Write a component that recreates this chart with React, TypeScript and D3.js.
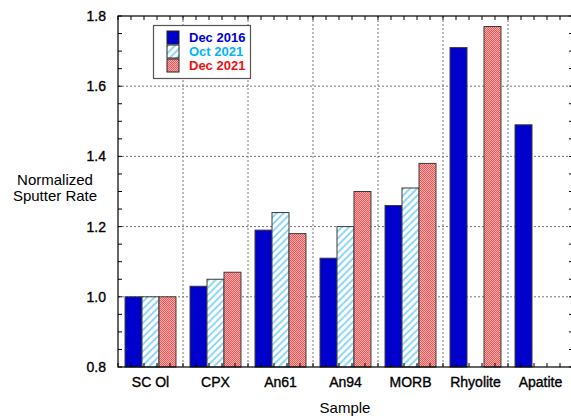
import React from "react";
import * as d3 from "d3";

const categories = ["SC Ol", "CPX", "An61", "An94", "MORB", "Rhyolite", "Apatite"];
const seriesNames = ["Dec 2016", "Oct 2021", "Dec 2021"];
const dec2016 = [1.0, 1.03, 1.19, 1.11, 1.26, 1.71, 1.49];
const oct2021: (number | null)[] = [1.0, 1.05, 1.24, 1.2, 1.31, null, null];
const dec2021: (number | null)[] = [1.0, 1.07, 1.18, 1.3, 1.38, 1.77, null];
const yMajorTicks = [0.8, 1.0, 1.2, 1.4, 1.6, 1.8];

const W = 571;
const H = 418;
const M = { left: 118, right: 573, top: 16, bottom: 367 };
const FONT = "'Liberation Sans', Arial, Helvetica, sans-serif";

const fills = ["#0000cc", "url(#hatch)", "url(#checker)"];
const textColors = ["#0000dd", "#00b4ff", "#ee1111"];

export default function App() {
  const x = d3.scaleBand<string>().domain(categories).range([M.left, M.right]);
  const bw = x.bandwidth();
  const xi = d3.scaleBand<string>().domain(seriesNames).range([bw * 0.108, bw * 0.892]);
  const y = d3.scaleLinear().domain([0.8, 1.8]).range([M.bottom, M.top]);

  const series = [dec2016, oct2021, dec2021];
  const minorY = d3.range(0.8, 1.8001, 0.05);
  const minorXCount = categories.length * 5;
  const minorX = d3.range(0, minorXCount + 1).map((i) => M.left + (i * (M.right - M.left)) / minorXCount);
  const gridX = categories.slice(1).map((c) => x(c)!);
  const gridY = yMajorTicks.filter((t) => t > 0.8 && t < 1.8);
  const heavy = { stroke: "#000", strokeWidth: 0.35 };
  const rowH = 14;

  return (
    <div style={{ position: "fixed", left: 0, top: 0 }}>
      <svg width={W} height={H} style={{ display: "block", background: "#fff" }} fontFamily={FONT}>
        <defs>
          <pattern id="hatch" patternUnits="userSpaceOnUse" width={5} height={5} patternTransform="rotate(45)">
            <rect width={5} height={5} fill="#fff" />
            <line x1={1} y1={0} x2={1} y2={5} stroke="#55c4f2" strokeWidth={1.3} />
          </pattern>
          <pattern id="checker" patternUnits="userSpaceOnUse" width={2} height={2}>
            <rect width={2} height={2} fill="#ffa9a9" />
            <rect width={1} height={1} fill="#e65c5c" />
            <rect x={1} y={1} width={1} height={1} fill="#e65c5c" />
          </pattern>
        </defs>

        {/* gridlines */}
        {gridX.map((gx, i) => (
          <line key={"gx" + i} x1={gx} x2={gx} y1={M.top} y2={M.bottom} stroke="#777" strokeDasharray="2,2" strokeWidth={1} />
        ))}
        {gridY.map((t, i) => (
          <line key={"gy" + i} x1={M.left} x2={M.right} y1={y(t)} y2={y(t)} stroke="#777" strokeDasharray="2,2" strokeWidth={1} />
        ))}

        {/* bars */}
        {categories.map((c, ci) => (
          <g key={c} transform={`translate(${x(c)},0)`}>
            {series.map((s, si) => {
              const v = s[ci];
              if (v == null) return null;
              return (
                <rect
                  key={si}
                  x={xi(seriesNames[si])}
                  y={y(v)}
                  width={xi.bandwidth()}
                  height={y(0.8) - y(v)}
                  fill={fills[si]}
                  stroke="#3a3a3a"
                  strokeWidth={1}
                />
              );
            })}
          </g>
        ))}

        {/* frame */}
        <rect x={M.left} y={M.top} width={M.right - M.left} height={M.bottom - M.top} fill="none" stroke="#000" strokeWidth={1.2} />

        {/* y ticks */}
        {minorY.map((t, i) => (
          <g key={"ty" + i}>
            <line x1={M.left} x2={M.left + 4} y1={y(t)} y2={y(t)} stroke="#000" />
            <line x1={M.right} x2={M.right - 4} y1={y(t)} y2={y(t)} stroke="#000" />
          </g>
        ))}
        {/* x minor ticks */}
        {minorX.map((mx, i) => (
          <g key={"tx" + i}>
            <line x1={mx} x2={mx} y1={M.top} y2={M.top + 4} stroke="#000" />
            <line x1={mx} x2={mx} y1={M.bottom} y2={M.bottom - 4} stroke="#000" />
          </g>
        ))}

        {/* y tick labels */}
        {yMajorTicks.map((t) => (
          <text key={"yl" + t} x={106} y={y(t) + 5} textAnchor="end" fontSize={14} fill="#000" {...heavy}>
            {t.toFixed(1)}
          </text>
        ))}

        {/* x labels */}
        {categories.map((c) => (
          <text key={"xl" + c} x={x(c)! + bw / 2} y={387} textAnchor="middle" fontSize={14} fill="#000" {...heavy}>
            {c}
          </text>
        ))}

        <text x={345} y={413} textAnchor="middle" fontSize={15} fill="#000">Sample</text>
        <text x={55} y={185} textAnchor="middle" fontSize={15} fill="#000">Normalized</text>
        <text x={55} y={201} textAnchor="middle" fontSize={15} fill="#000">Sputter Rate</text>

        {/* legend */}
        <g>
          <rect x={153.5} y={25.5} width={97} height={53} fill="#fff" stroke="#555" strokeWidth={1.2} />
          {seriesNames.map((s, i) => (
            <g key={s}>
              <rect x={167} y={31 + i * rowH} width={12} height={13} fill={fills[i]} stroke="#222" strokeWidth={1} />
              <text x={189} y={42 + i * rowH} fontSize={13} fontWeight="bold" fill={textColors[i]}>
                {s}
              </text>
            </g>
          ))}
        </g>
      </svg>
    </div>
  );
}
